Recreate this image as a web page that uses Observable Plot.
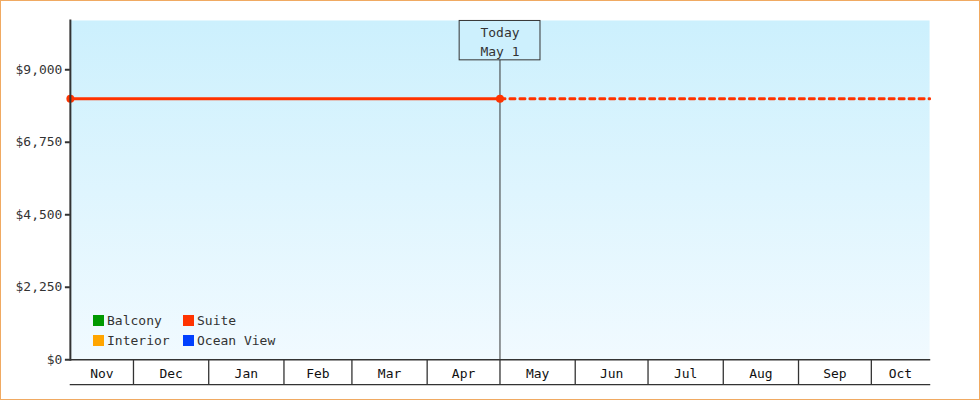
<!DOCTYPE html>
<html>
<head>
<meta charset="utf-8">
<script src="https://cdn.jsdelivr.net/npm/d3@7"></script>
<script src="https://cdn.jsdelivr.net/npm/@observablehq/plot@0.6"></script>
<style>
  html, body { margin: 0; padding: 0; background: #fff; }
  #wrap { position: relative; width: 980px; height: 400px; box-sizing: border-box; border: 1px solid #f0aa62; overflow: hidden; }
  #wrap svg { position: absolute; left: -1px; top: -1px; z-index: 0; }
  #legend { position: absolute; left: 92px; top: 313px; z-index: 2; display: grid; grid-template-columns: 90px auto; row-gap: 7px;
            font-family: "DejaVu Sans Mono", monospace; font-size: 13px; color: #333; line-height: 13px; }
  #legend .item { display: flex; align-items: center; }
  #legend .sw { width: 11px; height: 11px; margin-right: 3px; display: inline-block; }
</style>
</head>
<body>
<div id="wrap"><div id="legend"></div></div>
<script>
// ---- data ----
const domainStart = "2024-11-05";
const todayDate = "2025-05-01";
const domainEnd = "2025-10-25";
const todayLabel = "Today\nMay 1";

const monthNames = ["Nov", "Dec", "Jan", "Feb", "Mar", "Apr", "May", "Jun", "Jul", "Aug", "Sep", "Oct"];
const monthStarts = ["2024-11-01", "2024-12-01", "2025-01-01", "2025-02-01", "2025-03-01", "2025-04-01",
                     "2025-05-01", "2025-06-01", "2025-07-01", "2025-08-01", "2025-09-01", "2025-10-01"];

const suiteDates = [domainStart, todayDate];
const suitePrices = [8100, 8100];
const suiteForecastDates = [todayDate, domainEnd];
const suiteForecastPrices = [8100, 8100];

const yTicks = [0, 2250, 4500, 6750, 9000];
const yMax = 10530;

const categories = ["Balcony", "Suite", "Interior", "Ocean View"];
const categoryColors = ["#009900", "#ff3300", "#ffa500", "#0040ff"];

// ---- derived tables ----
const D = s => new Date(s + "T00:00:00Z");
const x0 = D(domainStart), x1 = D(domainEnd), today = D(todayDate);
const history = suiteDates.map((d, i) => ({date: D(d), price: suitePrices[i]}));
const forecast = suiteForecastDates.map((d, i) => ({date: D(d), price: suiteForecastPrices[i]}));
const boundaries = monthStarts.map(D).filter(d => d > x0 && d < x1);
const cells = monthNames.map((name, i) => {
  const a = D(monthStarts[i]);
  const b = i + 1 < monthStarts.length ? D(monthStarts[i + 1]) : x1;
  const lo = a < x0 ? x0 : a, hi = b > x1 ? x1 : b;
  return {name, mid: new Date((+lo + +hi) / 2)};
});

const defs = () => {
  const ns = "http://www.w3.org/2000/svg";
  const d = document.createElementNS(ns, "defs");
  const g = document.createElementNS(ns, "linearGradient");
  g.setAttribute("id", "bgGrad");
  g.setAttribute("x1", "0"); g.setAttribute("y1", "0"); g.setAttribute("x2", "0"); g.setAttribute("y2", "1");
  [["0%", "#ccf0fd"], ["100%", "#f1faff"]].forEach(([o, c]) => {
    const s = document.createElementNS(ns, "stop");
    s.setAttribute("offset", o); s.setAttribute("stop-color", c);
    g.appendChild(s);
  });
  d.appendChild(g);
  return d;
};

const suiteColor = categoryColors[categories.indexOf("Suite")];

const chart = Plot.plot({
  width: 980,
  height: 400,
  marginLeft: 70,
  marginRight: 49,
  marginTop: 20,
  marginBottom: 40,
  style: {fontFamily: "DejaVu Sans Mono, monospace", fontSize: "13px", background: "transparent", color: "#333", overflow: "visible"},
  x: {type: "utc", domain: [x0, x1]},
  y: {domain: [0, yMax]},
  marks: [
    defs,
    Plot.frame({fill: "url(#bgGrad)", stroke: null}),
    Plot.ruleX([today], {stroke: "#333", strokeWidth: 1, className: "today-rule"}),
    Plot.line(forecast, {x: "date", y: "price", stroke: suiteColor, strokeWidth: 3, strokeDasharray: "5,5"}),
    Plot.line(history, {x: "date", y: "price", stroke: suiteColor, strokeWidth: 3}),
    Plot.dot(history, {x: "date", y: "price", r: 4, fill: suiteColor, stroke: null}),
    Plot.text([today], {x: d => d, text: () => todayLabel, frameAnchor: "top", lineAnchor: "top", dy: 3, lineHeight: 1.46, fill: "#333", className: "today-label"}),
    Plot.axisY({ticks: yTicks, tickFormat: d => "$" + d3.format(",")(d), tickSize: 5, tickPadding: 3, strokeWidth: 2, color: "#333", label: null}),
    Plot.frame({anchor: "left", stroke: "#333", strokeWidth: 2}),
    Plot.axisX({ticks: boundaries, tickSize: 25, tickFormat: () => "", stroke: "#333", strokeWidth: 1.3, label: null}),
    Plot.frame({anchor: "bottom", stroke: "#333", strokeWidth: 1.3}),
    Plot.frame({anchor: "bottom", stroke: "#333", strokeWidth: 1.3, dy: 25}),
    Plot.text(cells, {x: "mid", text: "name", frameAnchor: "bottom", lineAnchor: "middle", dy: 14, fill: "#111"})
  ]
});

const wrap = document.getElementById("wrap");
wrap.insertBefore(chart, wrap.firstChild);

// box around the "Today" label (opaque, drawn over the rule), rule starting beneath it
const lbl = chart.querySelector(".today-label");
if (lbl) {
  const bb = lbl.getBBox();
  const cx = bb.x + bb.width / 2;
  const halfW = 40.5;
  const top = 20;
  const bottom = bb.y + bb.height + 4;
  const r = document.createElementNS("http://www.w3.org/2000/svg", "rect");
  r.setAttribute("x", cx - halfW);
  r.setAttribute("y", top + 0.5);
  r.setAttribute("width", halfW * 2);
  r.setAttribute("height", bottom - top);
  r.setAttribute("fill", "#cdf0fd");
  r.setAttribute("stroke", "#333");
  r.setAttribute("stroke-width", 1);
  lbl.parentNode.insertBefore(r, lbl);
  const ruleG = chart.querySelector(".today-rule");
  const rules = ruleG ? ruleG.querySelectorAll("line") : [];
  rules.forEach(l => {
    const a = +l.getAttribute("y1"), b = +l.getAttribute("y2");
    l.setAttribute("y1", bottom + 0.5);
    l.setAttribute("y2", Math.max(a, b));
  });
}

// legend
const legend = document.getElementById("legend");
categories.forEach((c, i) => {
  const it = document.createElement("div");
  it.className = "item";
  const sw = document.createElement("span");
  sw.className = "sw";
  sw.style.background = categoryColors[i];
  it.appendChild(sw);
  it.appendChild(document.createTextNode(c));
  legend.appendChild(it);
});
</script>
</body>
</html>
